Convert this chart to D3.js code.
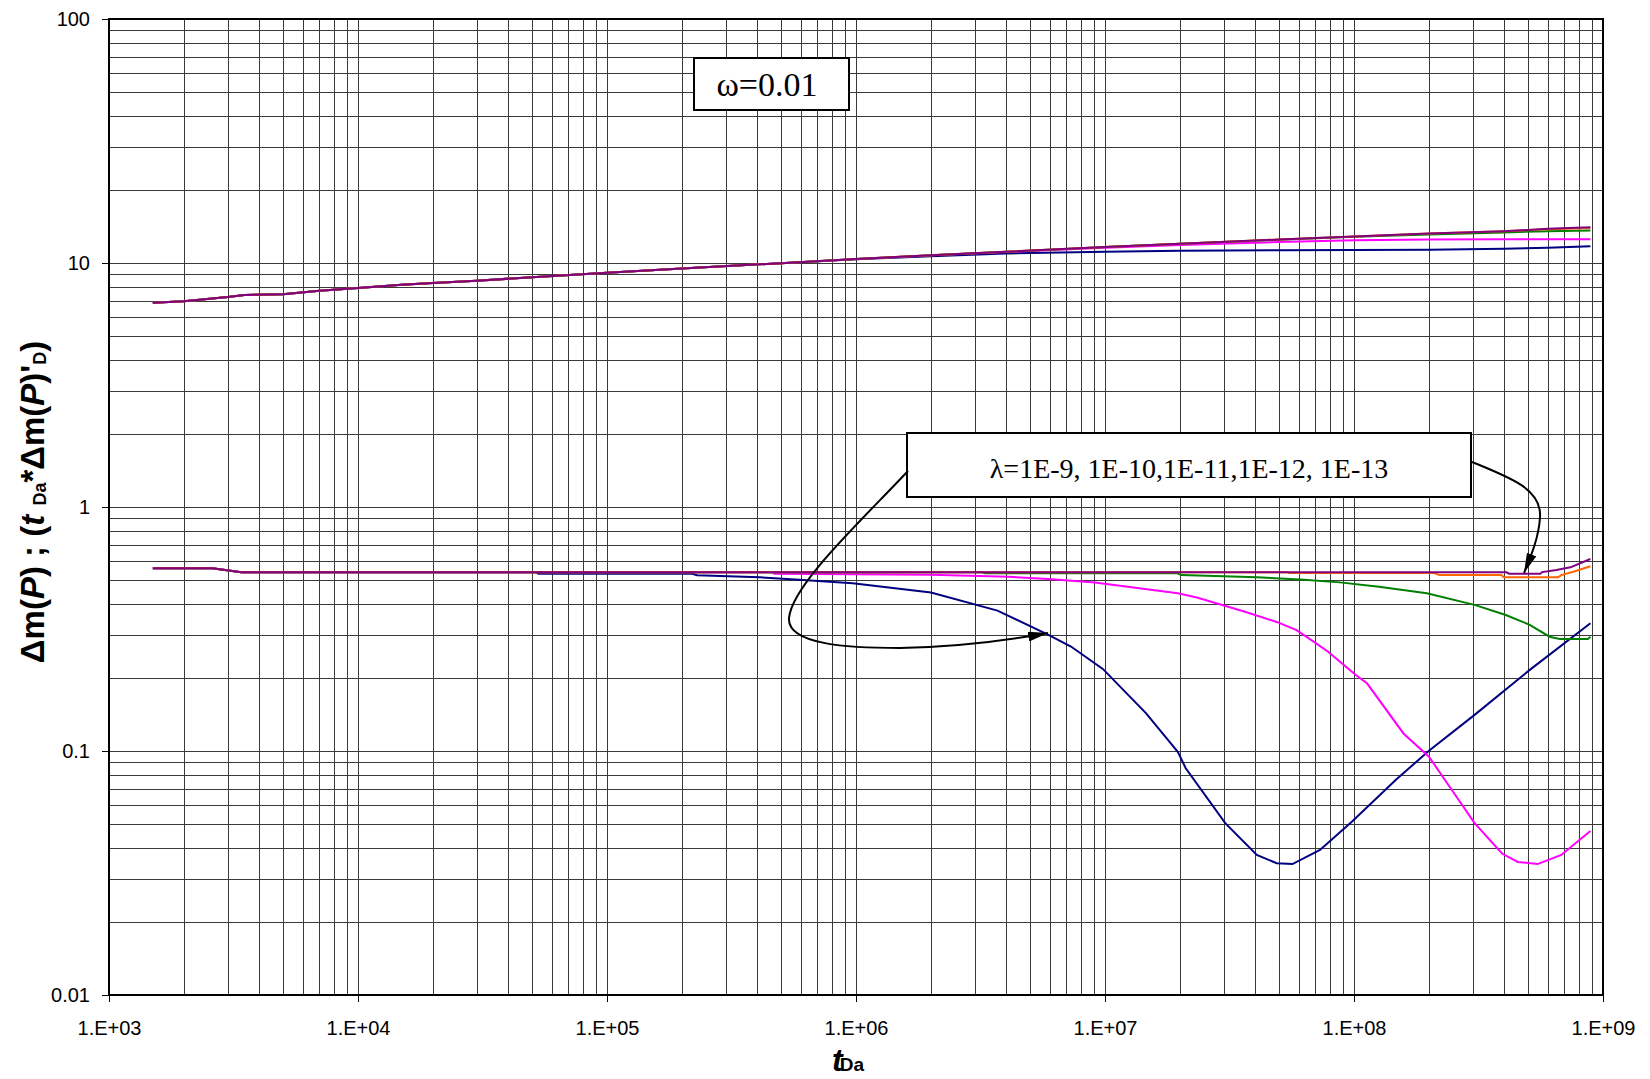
<!DOCTYPE html>
<html>
<head>
<meta charset="utf-8">
<script src="https://cdnjs.cloudflare.com/ajax/libs/d3/7.8.5/d3.min.js"></script>
<style>
  body { margin: 0; background: #fff; }
  svg { display: block; }
</style>
</head>
<body>
<div id="vis"></div>
<script>
const FRAME_WIDTH = 1650;
const FRAME_HEIGHT = 1079;
const MARGINS = {left: 109, right: 47, top: 19, bottom: 84};

// tick labels
const xTicks = [1e3, 1e4, 1e5, 1e6, 1e7, 1e8, 1e9];
const xTickLabels = ["1.E+03", "1.E+04", "1.E+05", "1.E+06", "1.E+07", "1.E+08", "1.E+09"];
const yTicks = [0.01, 0.1, 1, 10, 100];
const yTickLabels = ["0.01", "0.1", "1", "10", "100"];

// series: lambda = 1E-9, 1E-10, 1E-11, 1E-12, 1E-13
const lambdaNames = ["1E-9", "1E-10", "1E-11", "1E-12", "1E-13"];
const seriesColors = ["#000080", "#FF00FF", "#008000", "#FF6600", "#800080"];

// dimensionless pressure dm(P), shared time column
const pTime = [1.5e3, 2e3, 3e3, 3.5e3, 5e3, 7e3, 1e4, 1.5e4, 2e4, 3e4, 5e4, 1e5, 2e5, 5e5,
               1e6, 2e6, 4e6, 1e7, 2e7, 5e7, 1e8, 2e8, 4e8, 6e8, 8.9e8];
const pL9  = [6.88, 6.97, 7.25, 7.39, 7.45, 7.7, 7.9, 8.15, 8.28, 8.45, 8.75, 9.13, 9.5, 9.98,
              10.35, 10.67, 10.95, 11.12, 11.22, 11.27, 11.3, 11.32, 11.45, 11.55, 11.7];
const pL10 = [6.88, 6.97, 7.25, 7.39, 7.45, 7.7, 7.9, 8.15, 8.28, 8.45, 8.75, 9.13, 9.5, 9.98,
              10.38, 10.75, 11.1, 11.55, 11.85, 12.2, 12.4, 12.48, 12.5, 12.5, 12.5];
const pL11 = [6.88, 6.97, 7.25, 7.39, 7.45, 7.7, 7.9, 8.15, 8.28, 8.45, 8.75, 9.13, 9.5, 9.98,
              10.38, 10.75, 11.12, 11.62, 11.98, 12.45, 12.8, 13.1, 13.35, 13.5, 13.6];
const pL12 = [6.88, 6.97, 7.25, 7.39, 7.45, 7.7, 7.9, 8.15, 8.28, 8.45, 8.75, 9.13, 9.5, 9.98,
              10.38, 10.75, 11.12, 11.62, 11.98, 12.48, 12.85, 13.2, 13.5, 13.75, 13.9];
const pL13 = [6.88, 6.97, 7.25, 7.39, 7.45, 7.7, 7.9, 8.15, 8.28, 8.45, 8.75, 9.13, 9.5, 9.98,
              10.38, 10.75, 11.12, 11.62, 11.98, 12.48, 12.85, 13.2, 13.5, 13.8, 14.0];

// derivative tDa*dm(P)'D, one time column per series
const dTimeL9 = [1.5e3, 2.6e3, 3.4e3, 5.2e4, 5.3e4, 2.2e5, 2.3e5, 4.1e5, 5.7e5, 7.3e5, 9.7e5, 2.0e6,
                 3.7e6, 5.9e6, 7.3e6, 9.8e6, 1.46e7, 1.96e7, 2.11e7, 3.04e7, 4.07e7, 4.89e7, 5.66e7,
                 7.3e7, 9.8e7, 1.47e8, 2.0e8, 3.05e8, 5.08e8, 8.9e8];
const dL9 = [0.561, 0.561, 0.540, 0.540, 0.533, 0.533, 0.525, 0.515, 0.505, 0.496, 0.487, 0.446,
             0.376, 0.300, 0.268, 0.217, 0.143, 0.0993, 0.085, 0.0506, 0.0375, 0.0347, 0.0344,
             0.0393, 0.0513, 0.076, 0.1003, 0.1406, 0.215, 0.334];

const dTimeL10 = [1.5e3, 2.6e3, 3.4e3, 4.6e5, 4.7e5, 2.0e6, 4.1e6, 5.9e6, 9.1e6, 1.96e7, 2.34e7, 3.65e7,
                  4.89e7, 5.88e7, 7.05e7, 7.87e7, 1.02e8, 1.13e8, 1.58e8, 2.0e8, 2.63e8, 3.05e8,
                  3.93e8, 4.55e8, 5.46e8, 6.8e8, 8.9e8];
const dL10 = [0.561, 0.561, 0.540, 0.540, 0.533, 0.528, 0.518, 0.507, 0.490, 0.443, 0.426, 0.372,
              0.338, 0.313, 0.276, 0.255, 0.2045, 0.189, 0.118, 0.0948, 0.0631, 0.0506,
              0.0380, 0.0351, 0.0344, 0.0375, 0.047];

const dTimeL11 = [1.5e3, 2.6e3, 3.4e3, 3.2e6, 3.3e6, 1.95e7, 2.03e7, 4.07e7, 6.1e7, 8.78e7, 1.26e8,
                  1.96e8, 3.05e8, 4.07e8, 5.08e8, 6.1e8, 6.7e8, 8.7e8, 8.9e8];
const dL11 = [0.561, 0.561, 0.540, 0.540, 0.535, 0.535, 0.526, 0.515, 0.505, 0.491, 0.471,
              0.443, 0.397, 0.361, 0.329, 0.294, 0.288, 0.288, 0.294];

const dTimeL12 = [1.5e3, 2.6e3, 3.4e3, 5.4e7, 5.5e7, 2.1e8, 2.2e8, 3.9e8, 4.0e8, 6.6e8, 6.8e8, 7.6e8, 8.9e8];
const dL12 = [0.561, 0.561, 0.540, 0.540, 0.536, 0.536, 0.526, 0.526, 0.515, 0.515, 0.526, 0.543, 0.572];

const dTimeL13 = [1.5e3, 2.6e3, 3.4e3, 4.1e8, 4.2e8, 5.6e8, 5.7e8, 6.5e8, 7.4e8, 8.9e8];
const dL13 = [0.561, 0.561, 0.540, 0.540, 0.533, 0.533, 0.541, 0.552, 0.566, 0.612];

const pressureSeries = [pL9, pL10, pL11, pL12, pL13];
const derivTimes = [dTimeL9, dTimeL10, dTimeL11, dTimeL12, dTimeL13];
const derivSeries = [dL9, dL10, dL11, dL12, dL13];

const VIS_WIDTH = FRAME_WIDTH - MARGINS.left - MARGINS.right;
const VIS_HEIGHT = FRAME_HEIGHT - MARGINS.top - MARGINS.bottom;

const FRAME = d3.select("#vis")
    .append("svg")
        .attr("width", FRAME_WIDTH)
        .attr("height", FRAME_HEIGHT);

const X_SCALE = d3.scaleLog()
    .domain([1e3, 1e9])
    .range([MARGINS.left, MARGINS.left + VIS_WIDTH]);

const Y_SCALE = d3.scaleLog()
    .domain([0.01, 100])
    .range([MARGINS.top + VIS_HEIGHT, MARGINS.top]);

// grid: 1..9 in every decade
const xGrid = [];
for (let e = 3; e < 9; e++) for (let m = 2; m <= 10; m++) xGrid.push(m * Math.pow(10, e));
const yGrid = [];
for (let e = -2; e < 2; e++) for (let m = 2; m <= 10; m++) yGrid.push(m * Math.pow(10, e));

FRAME.append("g")
    .selectAll("line")
    .data(xGrid)
    .enter()
    .append("line")
        .attr("x1", d => Math.round(X_SCALE(d)) + 0.5)
        .attr("x2", d => Math.round(X_SCALE(d)) + 0.5)
        .attr("y1", MARGINS.top)
        .attr("y2", MARGINS.top + VIS_HEIGHT)
        .attr("stroke", "#3a3a3a")
        .attr("stroke-width", 1);

FRAME.append("g")
    .selectAll("line")
    .data(yGrid)
    .enter()
    .append("line")
        .attr("x1", MARGINS.left)
        .attr("x2", MARGINS.left + VIS_WIDTH)
        .attr("y1", d => Math.round(Y_SCALE(d)) + 0.5)
        .attr("y2", d => Math.round(Y_SCALE(d)) + 0.5)
        .attr("stroke", "#3a3a3a")
        .attr("stroke-width", 1);

// lines
const line = d3.line()
    .x(d => X_SCALE(d[0]))
    .y(d => Y_SCALE(d[1]));

const curves = FRAME.append("g").attr("fill", "none").attr("stroke-width", 2);

pressureSeries.forEach((vals, i) => {
    curves.append("path")
        .datum(pTime.map((t, j) => [t, vals[j]]))
        .attr("d", line)
        .attr("stroke", seriesColors[i]);
});

derivSeries.forEach((vals, i) => {
    curves.append("path")
        .datum(derivTimes[i].map((t, j) => [t, vals[j]]))
        .attr("d", line)
        .attr("stroke", seriesColors[i]);
});

// plot frame
FRAME.append("rect")
    .attr("x", MARGINS.left)
    .attr("y", MARGINS.top)
    .attr("width", VIS_WIDTH)
    .attr("height", VIS_HEIGHT)
    .attr("fill", "none")
    .attr("stroke", "#000")
    .attr("stroke-width", 2);

// axes
const xAxis = FRAME.append("g")
    .attr("transform", "translate(0," + (MARGINS.top + VIS_HEIGHT) + ")")
    .call(d3.axisBottom(X_SCALE).tickValues(xTicks)
        .tickFormat((d, i) => xTickLabels[i]).tickSize(7).tickPadding(19));

const yAxis = FRAME.append("g")
    .attr("transform", "translate(" + MARGINS.left + ",0)")
    .call(d3.axisLeft(Y_SCALE).tickValues(yTicks)
        .tickFormat((d, i) => yTickLabels[i]).tickSize(7).tickPadding(12));

[xAxis, yAxis].forEach(ax => {
    ax.select(".domain").remove();
    ax.selectAll("line").attr("stroke", "#000");
    ax.selectAll("text")
        .attr("font-family", "Arial, 'Liberation Sans', sans-serif")
        .attr("font-size", 20)
        .attr("fill", "#000");
});

// axis titles
const xTitle = FRAME.append("text")
    .attr("x", 848)
    .attr("y", 1071)
    .attr("text-anchor", "middle")
    .attr("font-family", "Arial, 'Liberation Sans', sans-serif")
    .attr("font-weight", "bold");
xTitle.append("tspan").attr("font-size", 32).attr("font-style", "italic").text("t");
xTitle.append("tspan").attr("font-size", 19).attr("dx", -3).text("Da");

const yTitle = FRAME.append("text")
    .attr("transform", "translate(44,502) rotate(-90)")
    .attr("text-anchor", "middle")
    .attr("font-family", "Arial, 'Liberation Sans', sans-serif")
    .attr("font-weight", "bold")
    .attr("font-size", 33);
yTitle.append("tspan").text("\u0394m(");
yTitle.append("tspan").attr("font-style", "italic").text("P");
yTitle.append("tspan").text(") ; (");
yTitle.append("tspan").attr("font-style", "italic").text("t ");
yTitle.append("tspan").attr("font-size", 18).attr("dy", 2).text("Da");
yTitle.append("tspan").attr("dy", -2).text("*\u0394m(");
yTitle.append("tspan").attr("font-style", "italic").text("P");
yTitle.append("tspan").text(")'");
yTitle.append("tspan").attr("font-size", 18).attr("dy", 2).text("D");
yTitle.append("tspan").attr("dy", -2).text(")");

// annotation boxes
FRAME.append("rect")
    .attr("x", 694).attr("y", 58)
    .attr("width", 155).attr("height", 52)
    .attr("fill", "#fff").attr("stroke", "#000").attr("stroke-width", 2);
FRAME.append("text")
    .attr("x", 767).attr("y", 96)
    .attr("text-anchor", "middle")
    .attr("font-family", "'Liberation Serif', 'Times New Roman', serif")
    .attr("font-size", 34)
    .text("\u03c9=0.01");

FRAME.append("rect")
    .attr("x", 907).attr("y", 433)
    .attr("width", 564).attr("height", 64)
    .attr("fill", "#fff").attr("stroke", "#000").attr("stroke-width", 2);
FRAME.append("text")
    .attr("x", 1189).attr("y", 478)
    .attr("text-anchor", "middle")
    .attr("font-family", "'Liberation Serif', 'Times New Roman', serif")
    .attr("font-size", 28)
    .text("\u03bb=1E-9, 1E-10,1E-11,1E-12, 1E-13");

// arrows
FRAME.append("defs").append("marker")
    .attr("id", "head")
    .attr("viewBox", "0 0 20 10")
    .attr("refX", 20).attr("refY", 5)
    .attr("markerWidth", 20).attr("markerHeight", 10)
    .attr("markerUnits", "userSpaceOnUse")
    .attr("orient", "auto")
    .append("path")
        .attr("d", "M0,0 L20,5 L0,10 Z")
        .attr("fill", "#000");

FRAME.append("path")
    .attr("d", "M908,471 C860,522 792,585 789,618 C787,645 850,648 900,648 C960,647 1010,640 1048,633")
    .attr("fill", "none").attr("stroke", "#000").attr("stroke-width", 2)
    .attr("marker-end", "url(#head)");

FRAME.append("path")
    .attr("d", "M1472,462 C1512,478 1542,490 1540,517 C1539,537 1531,556 1524,573")
    .attr("fill", "none").attr("stroke", "#000").attr("stroke-width", 2)
    .attr("marker-end", "url(#head)");
</script>
</body>
</html>
